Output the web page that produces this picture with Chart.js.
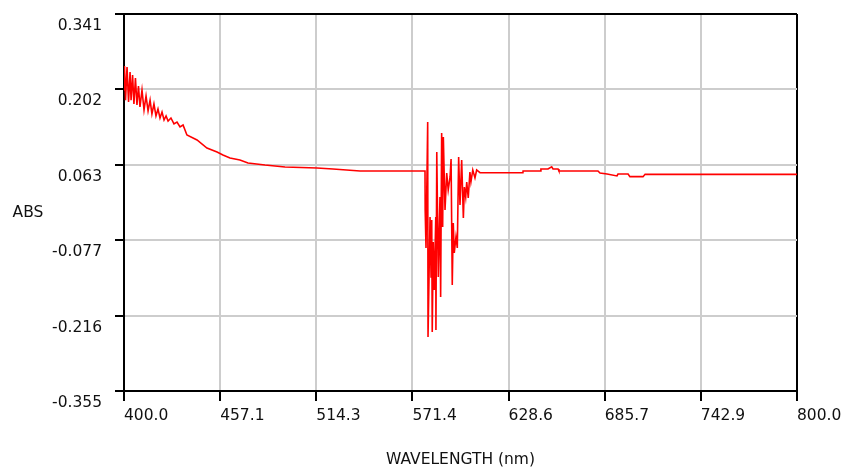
<!DOCTYPE html>
<html lang="en">
<head>
<meta charset="UTF-8">
<title>Absorbance spectrum</title>
<script src="https://cdn.jsdelivr.net/npm/chart.js"></script>
<style>
  html, body { margin: 0; padding: 0; background: #fff; }
  #wrap { width: 843px; height: 470px; }
</style>
</head>
<body>
<div id="wrap"><canvas id="spectrum" width="843" height="470"></canvas></div>
<script>
// (nm / ABS)
const wavelength = [
  400.0, 400.3, 400.9, 401.8, 402.7, 403.6, 404.2, 405.1, 405.9, 406.8,
  407.7, 408.6, 409.5, 410.7, 411.9, 413.1, 414.3, 415.5, 416.6, 417.8,
  419.0, 420.2, 421.4, 422.6, 423.8, 425.0, 426.2, 427.9, 429.7, 431.5,
  433.3, 435.1, 437.4, 443.4, 449.3, 455.3, 458.8, 463.0, 468.9, 473.7,
  483.8, 495.7, 514.7, 524.2, 540.3, 578.9,
  579.0, 579.5, 580.5, 580.7, 581.9, 582.5, 582.9, 583.2, 583.8, 584.4,
  585.3, 585.4, 585.9, 586.8, 587.8, 588.2, 588.8, 589.4, 589.8, 590.8,
  591.8, 592.7, 593.8, 594.4, 595.1, 595.7, 596.3, 597.3, 598.1, 598.9,
  599.7, 600.7, 601.7, 602.3, 603.1, 603.7, 604.6, 605.6, 606.2, 607.3,
  608.6, 609.6, 611.6,
  637.1, 637.2, 647.3, 647.8, 652.0, 654.2, 655.0, 658.0, 658.5, 681.7,
  682.9, 687.1, 693.0, 693.6, 699.6, 700.7, 708.5, 709.7, 800.0
];
const absorbance = [
  0.2007, 0.2450, 0.1820, 0.2430, 0.1786, 0.2340, 0.1820, 0.2284, 0.1749, 0.2229,
  0.1730, 0.2080, 0.1693, 0.2007, 0.1638, 0.1896, 0.1620, 0.1820, 0.1564, 0.1749,
  0.1527, 0.1656, 0.1490, 0.1600, 0.1453, 0.1527, 0.1435, 0.1490, 0.1380, 0.1416,
  0.1324, 0.1360, 0.1177, 0.1084, 0.0936, 0.0863, 0.0807, 0.0752, 0.0715, 0.0660,
  0.0622, 0.0586, 0.0567, 0.0548, 0.0511, 0.0511,
  -0.0208, -0.0910, 0.1416, -0.2553, -0.0337, -0.1445, -0.0393, -0.2460, -0.0799, -0.1685,
  -0.0337, -0.2423, 0.0863, -0.1445, 0.0032, -0.1814, 0.1213, -0.0522, 0.1139, -0.0208,
  0.0475, 0.0161, 0.0401, 0.0733, -0.1593, -0.0448, -0.1002, -0.0707, -0.0910, 0.0770,
  -0.0116, 0.0715, -0.0356, 0.0216, 0.0032, 0.0309, 0.0013, 0.0493, 0.0309, 0.0530,
  0.0383, 0.0530, 0.0480,
  0.0480, 0.0512, 0.0512, 0.0548, 0.0548, 0.0590, 0.0548, 0.0548, 0.0512, 0.0512,
  0.0475, 0.0456, 0.0420, 0.0456, 0.0456, 0.0407, 0.0407, 0.0450, 0.0450
];

const xTickValues = [400, 457.143, 514.286, 571.429, 628.571, 685.714, 742.857, 800];
const yTickValues = [-0.355, -0.2158, -0.0766, 0.0626, 0.2018, 0.341];

const points = wavelength.map((w, i) => ({ x: w, y: absorbance[i] }));

const FONT = '"DejaVu Sans", Verdana, sans-serif';
const GRID_GREY = '#cdcdcd';

// ABS label sits horizontally beside the axis, so draw it ourselves
const absLabel = {
  id: 'absLabel',
  afterDraw(chart) {
    const c = chart.ctx;
    c.save();
    c.font = '15.5px ' + FONT;
    c.fillStyle = '#111';
    c.textAlign = 'center';
    c.textBaseline = 'middle';
    c.fillText('ABS', 28, 213);
    c.restore();
  }
};

new Chart(document.getElementById('spectrum'), {
  type: 'scatter',
  data: {
    datasets: [{
      label: 'ABS',
      data: points,
      showLine: true,
      borderColor: '#ff0000',
      borderWidth: 1.6,
      pointRadius: 0,
      tension: 0
    }]
  },
  options: {
    responsive: false,
    animation: false,
    layout: { padding: { left: 0, right: 46, top: 14, bottom: 0 } },
    plugins: {
      legend: { display: false },
      tooltip: { enabled: false }
    },
    scales: {
      x: {
        type: 'linear',
        min: 400,
        max: 800,
        afterBuildTicks: s => { s.ticks = xTickValues.map(v => ({ value: v })); },
        afterFit: s => { s.height = 79; s.paddingLeft = 0; s.paddingRight = 0; },
        border: { display: true, color: '#000', width: 2 },
        grid: {
          color: c => c.index === xTickValues.length - 1 ? '#000' : GRID_GREY,
          lineWidth: 2,
          tickLength: 10,
          tickColor: '#000',
          tickWidth: 2
        },
        ticks: {
          align: 'start',
          padding: 6,
          color: '#111',
          font: { family: FONT, size: 15.5 },
          maxRotation: 0,
          callback: v => Number(v).toFixed(1)
        },
        title: {
          display: true,
          text: 'WAVELENGTH (nm)',
          color: '#111',
          font: { family: FONT, size: 15.5 },
          padding: { top: 2, bottom: 1 }
        }
      },
      y: {
        type: 'linear',
        min: -0.355,
        max: 0.341,
        afterBuildTicks: s => { s.ticks = yTickValues.map(v => ({ value: v })); },
        afterFit: s => { s.width = 124; s.paddingTop = 0; s.paddingBottom = 0; },
        border: { display: true, color: '#000', width: 2 },
        grid: {
          color: c => c.index === yTickValues.length - 1 ? '#000' : GRID_GREY,
          lineWidth: 2,
          tickLength: 9,
          tickColor: '#000',
          tickWidth: 2
        },
        ticks: {
          padding: 13,
          labelOffset: 12,
          color: '#111',
          font: { family: FONT, size: 15.5 },
          callback: v => Number(v).toFixed(3)
        }
      }
    }
  },
  plugins: [absLabel]
});
</script>
</body>
</html>
